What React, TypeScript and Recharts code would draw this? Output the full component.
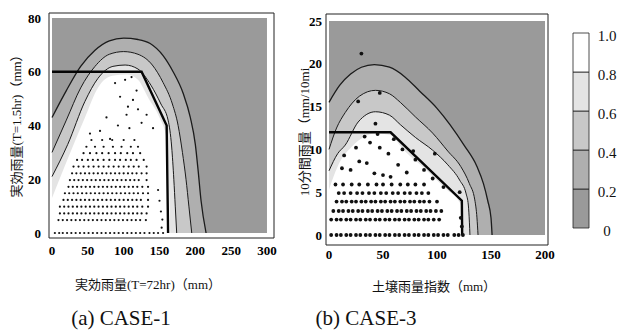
import React from "react"
import { ComposedChart, Area, Line, Scatter, XAxis, YAxis, ReferenceArea, BarChart, Bar } from "recharts"

type Pt = [number, number]

const bandColors = ["#9a9a9a", "#afafaf", "#c8c8c8", "#e4e4e4", "#ffffff"]
const bandTicks = [0, 0.2, 0.4, 0.6, 0.8, 1]
const bandLabels = ["0", "0.2", "0.4", "0.6", "0.8", "1.0"]
const colorbarData = [{ name: "p", b0: 0.2, b1: 0.2, b2: 0.2, b3: 0.2, b4: 0.2 }]

// (a) CASE-1
const case1XTicks = [0, 50, 100, 150, 200, 250, 300]
const case1YTicks = [0, 20, 40, 60, 80]
const case1Extent: Pt[] = [[0, 80], [300, 80]]
const case1C02: Pt[] = [[0, 43], [20, 53], [40, 62], [60, 68], [80, 71.5], [100, 72.5], [120, 72], [137, 70.5], [155, 66], [169, 60], [183, 52], [193, 43], [200, 33], [204, 23], [208, 12], [215, 0]]
const case1C04: Pt[] = [[0, 30], [20, 42], [40, 54], [60, 62], [80, 66.5], [100, 67.5], [120, 66.5], [140, 62.5], [155, 56], [168, 48], [176, 40], [182, 30], [187, 20], [191, 10], [195, 0]]
const case1C06: Pt[] = [[0, 21], [22, 33], [46, 49], [64, 57.5], [85, 62], [102, 62.5], [120, 61], [138, 55], [152, 48], [162, 42], [167, 32], [170, 20], [172, 10], [174, 0]]
const case1C08: Pt[] = [[0, 13], [18, 25], [46, 43], [64, 54], [84, 58.5], [105, 59], [120, 57], [135, 50], [150, 43], [160, 35], [163, 20], [165, 0]]
const case1Critical: Pt[] = [[0, 60], [125, 60], [160, 40], [162, 0]]
const case1Rows = [
  { y: 0, xs: [4, 10, 15, 21, 27, 33, 39, 45, 51, 57, 63, 69, 75, 81, 87, 93, 99, 105, 111, 117, 123, 129, 136, 142, 148, 155] },
  { y: 4.8, xs: [9, 15, 21, 27, 33, 39, 45, 51, 57, 63, 69, 75, 81, 87, 93, 99, 105, 111, 117, 123, 131] },
  { y: 7.3, xs: [11, 17, 23, 29, 35, 41, 47, 53, 59, 65, 71, 77, 83, 89, 95, 101, 107, 113, 119, 125, 132] },
  { y: 9.8, xs: [11, 17, 23, 29, 35, 41, 47, 53, 59, 65, 71, 77, 83, 89, 95, 101, 107, 113, 119, 126, 134] },
  { y: 12.3, xs: [16, 22, 28, 34, 40, 46, 52, 58, 64, 70, 76, 82, 88, 94, 100, 106, 112, 118, 124, 134] },
  { y: 14.8, xs: [18, 24, 30, 36, 42, 48, 54, 60, 66, 72, 78, 84, 90, 96, 102, 108, 114, 120, 127, 134] },
  { y: 17.2, xs: [23, 29, 35, 41, 47, 53, 59, 65, 71, 77, 83, 89, 95, 101, 107, 113, 119, 126, 134] },
  { y: 19.7, xs: [25, 31, 37, 43, 49, 55, 61, 67, 73, 79, 85, 91, 97, 103, 109, 115, 121, 132] },
  { y: 22.2, xs: [28, 34, 40, 46, 52, 58, 64, 70, 76, 82, 88, 94, 100, 106, 112, 118, 125, 132] },
  { y: 24.7, xs: [30, 37, 44, 51, 58, 65, 72, 79, 86, 93, 100, 107, 114, 121, 132] },
  { y: 27.2, xs: [35, 42, 50, 57, 64, 72, 80, 88, 95, 103, 110, 118, 128] },
  { y: 29.7, xs: [44, 53, 62, 70, 79, 88, 96, 105, 113, 123] },
  { y: 32.1, xs: [48, 60, 72, 85, 97, 110, 120] },
  { y: 34.6, xs: [55, 70, 84, 100, 115] },
]
const case1Extra: Pt[] = [[88, 55.8], [102, 57], [111, 58], [113, 49.5], [95, 50.7], [106, 47], [76, 43], [141, 39], [53, 37], [67, 38], [81, 35], [92, 40], [108, 39], [125, 41], [120, 46], [132, 44], [118, 53], [104, 44], [153, 2], [154, 5], [152, 8], [150, 12], [148, 16]]

// (b) CASE-3
const case3XTicks = [0, 50, 100, 150, 200]
const case3YTicks = [0, 5, 10, 15, 20, 25]
const case3Extent: Pt[] = [[0, 25], [200, 25]]
const case3C02: Pt[] = [[0, 15.5], [10, 17.5], [20, 18.8], [30, 19.6], [42, 19.9], [56, 19.6], [70, 18.5], [84, 16.8], [100, 14.8], [112, 12.9], [125, 10.5], [137, 8], [143, 6], [147, 4], [150, 2], [151, 0]]
const case3C04: Pt[] = [[0, 10], [7, 12.5], [15, 14.3], [28, 16.2], [43, 16.9], [56, 16.5], [66, 15.5], [80, 13.8], [96, 11.9], [110, 9.8], [122, 8], [130, 6], [135, 4.1], [137, 2], [138, 0]]
const case3C06: Pt[] = [[0, 7.5], [8, 9.5], [15, 10.5], [27, 13.2], [43, 14.4], [56, 14], [66, 12.9], [80, 11.4], [96, 9.9], [110, 8.2], [121, 6.4], [127, 4.8], [129, 3.5], [130, 1.5], [130.5, 0]]
const case3C08: Pt[] = [[0, 5.3], [8, 8], [21, 10.3], [33, 11.5], [43, 11.9], [56, 11.7], [70, 9.8], [90, 7.6], [110, 5.2], [120, 4], [123, 3.2], [123.5, 1], [124, 0]]
const case3Critical: Pt[] = [[0, 12], [57, 12], [123, 4], [123.3, 0]]
const case3Rows = [
  { y: 0, xs: [2, 7, 11, 16, 20, 25, 29, 34, 38, 43, 47, 52, 56, 61, 65, 70, 74, 79, 83, 88, 92, 97, 101, 106, 110, 116, 120, 124] },
  { y: 1.8, xs: [2, 7, 11, 16, 20, 25, 29, 34, 38, 43, 47, 52, 56, 61, 65, 70, 74, 79, 83, 88, 92, 97, 102] },
  { y: 2.8, xs: [4, 9, 13, 18, 22, 27, 31, 36, 40, 45, 49, 54, 58, 63, 67, 72, 76, 81, 85, 90, 94, 99, 104] },
  { y: 3.9, xs: [7, 12, 16, 21, 25, 30, 34, 39, 43, 48, 52, 57, 61, 66, 70, 75, 79, 84, 88, 93, 100] },
  { y: 4.9, xs: [9, 14, 20, 26, 31, 37, 42, 48, 53, 59, 64, 70, 75, 81, 86, 92] },
  { y: 5.9, xs: [6, 13, 21, 28, 36, 44, 50, 58, 66, 73, 80, 88] },
]
const case3Extra: Pt[] = [[12, 7.8], [20, 7.6], [28, 8.6], [35, 8.4], [42, 7.2], [50, 7], [57, 6.8], [64, 8.2], [72, 7.3], [80, 8.8], [88, 7.6], [96, 6.6], [106, 5.6], [14, 9.3], [25, 10.2], [38, 10.8], [47, 10.2], [55, 9.5], [68, 10], [78, 9.8], [33, 11.5], [45, 11.8], [60, 11.2], [121, 5], [98, 9.5], [47, 16.6], [27, 15.6], [30, 21.2], [43, 13], [122, 2], [123, 1]]

const pts = (a: Pt[]) => a.map(([x, y]) => ({ x, y }))
const rowDots = (rows: { y: number; xs: number[] }[], extra: Pt[]) =>
  rows.flatMap((r) => r.xs.map((x) => ({ x, y: r.y }))).concat(pts(extra))

const serif = "'Liberation Serif', 'Times New Roman', serif"
const cjk = "'Liberation Serif', 'Noto Sans CJK JP', serif"
const tickStyle = { fontSize: 13, fill: "#000", fontFamily: serif, fontWeight: 600 }

function Panel(props: any) {
  const { left, margin, xDomain, yDomain, xTicks, yTicks, extent, contours, critical, dots, dotR, xTickSize, yTickSize } = props
  return (
    <div style={{ position: "absolute", left, top: 0 }}>
      <ComposedChart width={300} height={300} margin={margin}>
        <XAxis type="number" dataKey="x" domain={xDomain} ticks={xTicks} allowDataOverflow interval={0}
          axisLine={false} tickLine={false} tickSize={xTickSize} height={30} tick={tickStyle} />
        <YAxis type="number" dataKey="y" domain={yDomain} ticks={yTicks} allowDataOverflow interval={0}
          axisLine={false} tickLine={false} tickSize={yTickSize} width={30} tick={tickStyle} />
        <Area data={pts(extent)} dataKey="y" type="linear" fill={bandColors[0]} fillOpacity={1} stroke="none"
          baseValue={0} dot={false} activeDot={false} isAnimationActive={false} />
        {contours.map((c: Pt[], i: number) => (
          <Area key={i} data={pts(c)} dataKey="y" type="monotone" fill={bandColors[i + 1]} fillOpacity={1}
            stroke={i < 3 ? "#1b1b1b" : "none"} strokeWidth={i === 0 ? 1.3 : 1} baseValue={0}
            dot={false} activeDot={false} isAnimationActive={false} />
        ))}
        <Line data={pts(critical)} dataKey="y" type="linear" stroke="#050505" strokeWidth={2.4} dot={false}
          activeDot={false} isAnimationActive={false} />
        <Scatter data={dots} dataKey="y" isAnimationActive={false}
          shape={(p: any) => <circle cx={p.cx} cy={p.cy} r={dotR} fill="#111" />} />
        <ReferenceArea x1={xDomain[0]} x2={xDomain[1]} y1={yDomain[0]} y2={yDomain[1]} fill="none"
          stroke="#222" strokeWidth={1} ifOverflow="visible" />
      </ComposedChart>
    </div>
  )
}

function BandTick(props: any) {
  const { x, y, payload } = props
  const i = bandTicks.indexOf(payload.value)
  return (
    <text x={x + 10} y={y + 3} textAnchor="middle" dominantBaseline="central" fontSize={15} fontFamily={serif} fill="#111">
      {bandLabels[i]}
    </text>
  )
}

const rot = (cx: number, cy: number, size: number) => ({
  position: "absolute" as const, left: cx, top: cy, transform: "translate(-50%, -50%) rotate(-90deg)",
  whiteSpace: "nowrap" as const, fontSize: size, fontFamily: cjk, color: "#111",
})
const flat = (cx: number, cy: number, size: number, family: string) => ({
  position: "absolute" as const, left: cx, top: cy, transform: "translate(-50%, -50%)",
  whiteSpace: "nowrap" as const, fontSize: size, fontFamily: family, color: "#111",
})

export default function App() {
  return (
    <div style={{ position: "absolute", left: 0, top: 0, width: 618, height: 330, background: "#fff", overflow: "hidden" }}>
      <Panel left={0} margin={{ top: 13, right: 26, bottom: 32, left: 19 }}
        xDomain={[-4.2, 309.8]} yDomain={[-1.86, 81.86]} xTicks={case1XTicks} yTicks={case1YTicks}
        extent={case1Extent} contours={[case1C02, case1C04, case1C06, case1C08]} critical={case1Critical}
        dots={rowDots(case1Rows, case1Extra)} dotR={1.1} xTickSize={6} yTickSize={6} />
      <Panel left={280} margin={{ top: 14, right: 32, bottom: 25, left: 16 }}
        xDomain={[-2.78, 202.78]} yDomain={[-1.17, 25.82]} xTicks={case3XTicks} yTicks={case3YTicks}
        extent={case3Extent} contours={[case3C02, case3C04, case3C06, case3C08]} critical={case3Critical}
        dots={rowDots(case3Rows, case3Extra)} dotR={1.9} xTickSize={3} yTickSize={2} />
      <div style={{ position: "absolute", left: 560, top: 20 }}>
        <BarChart width={58} height={230} data={colorbarData} margin={{ top: 13, right: 0, bottom: 22, left: 13 }}
          barCategoryGap={0}>
          <XAxis dataKey="name" hide />
          <YAxis orientation="right" type="number" domain={[0, 1]} ticks={bandTicks} interval={0} width={29}
            axisLine={false} tickLine={false} tick={<BandTick />} />
          {["b0", "b1", "b2", "b3", "b4"].map((k, i) => (
            <Bar key={k} dataKey={k} stackId="a" fill={bandColors[i]} stroke="#222" strokeWidth={0.8}
              isAnimationActive={false} />
          ))}
        </BarChart>
      </div>
      <div style={rot(15, 123, 13)}>実効雨量(T=1.5hr)（mm）</div>
      <div style={rot(303, 132, 13)}>10分間雨量（mm/10mi</div>
      <div style={flat(148, 283, 13, cjk)}>実効雨量(T=72hr)（mm）</div>
      <div style={flat(434, 285, 13, cjk)}>土壌雨量指数（mm）</div>
      <div style={flat(121, 318, 21, serif)}>(a) CASE-1</div>
      <div style={flat(366, 318, 21, serif)}>(b) CASE-3</div>
    </div>
  )
}
